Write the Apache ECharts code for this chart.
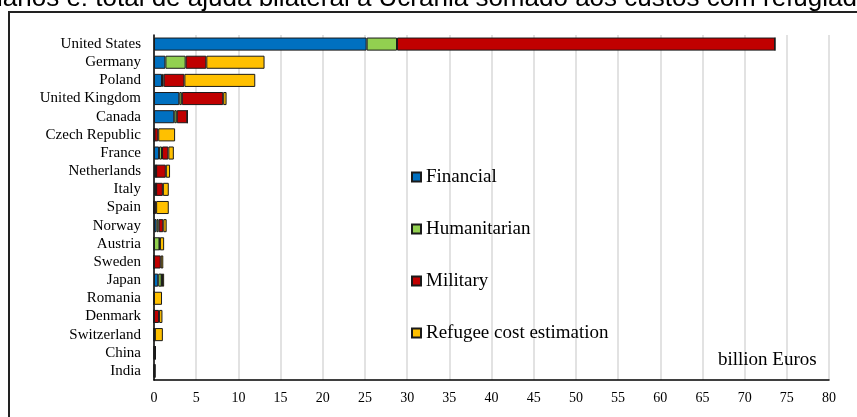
<!DOCTYPE html>
<html>
<head>
<meta charset="utf-8">
<script src="https://cdn.jsdelivr.net/npm/echarts@6/dist/echarts.min.js"></script>
<style>
html,body{margin:0;padding:0;background:#fff;}
#chart{width:857px;height:417px;}
</style>
</head>
<body>
<div id="chart"></div>
<script>
// 数据（十亿欧元）
var countries = ['United States','Germany','Poland','United Kingdom','Canada','Czech Republic','France','Netherlands','Italy','Spain','Norway','Austria','Sweden','Japan','Romania','Denmark','Switzerland','China','India'];
var financial    = [25.2, 1.35, 0.95, 3.0, 2.4, 0.05, 0.6, 0.25, 0.25, 0,   0.3,  0,    0,   0.5,  0,    0,   0,    0,    0];
var humanitarian = [3.6,  2.4,  0.2,  0.3, 0.3, 0,    0.35,0,    0,    0,   0.25, 0.65, 0,   0.4,  0,    0,   0.1,  0.15, 0.1];
var military     = [44.8, 2.45, 2.45, 4.9, 1.25,0.45, 0.75,1.15, 0.8,  0.25,0.55, 0.05, 0.8, 0.05, 0,    0.6, 0,    0,    0];
var refugee      = [0,    6.9,  8.4,  0.4, 0,   2.0,  0.65,0.5,  0.7,  1.5, 0.4,  0.5,  0.3, 0.25, 0.95, 0.4, 0.95, 0,    0];
var xTicks = [0,5,10,15,20,25,30,35,40,45,50,55,60,65,70,75,80];

var serif = '"Liberation Serif","Times New Roman",serif';

function makeSeries(name, data, color){
	return {
		name: name,
		type: 'bar',
		stack: 'total',
		barWidth: '72%',
		data: data,
		itemStyle: {color: color, borderColor: '#1a1a1a', borderWidth: 1}
	};
}

var myChart = echarts.init(document.getElementById('chart'));
var option = {
	animation: false,
	backgroundColor: '#fff',
	grid: {left: 154, right: 28, top: 35, bottom: 37},
	legend: {
		orient: 'vertical',
		left: 406,
		top: 162,
		itemWidth: 9,
		itemHeight: 9,
		itemGap: 32,
		icon: 'rect',
		textStyle: {fontFamily: serif, fontSize: 19, lineHeight: 20, color: '#000'},
		data: ['Financial','Humanitarian','Military','Refugee cost estimation']
	},
	xAxis: {
		type: 'value',
		min: xTicks[0],
		max: xTicks[xTicks.length-1],
		interval: 5,
		axisLine: {show: true, lineStyle: {color: '#000', width: 1.5}},
		axisTick: {show: false},
		axisLabel: {fontFamily: serif, fontSize: 14, color: '#000', margin: 11},
		splitLine: {lineStyle: {color: '#d9d9d9', width: 1.5}}
	},
	yAxis: {
		type: 'category',
		inverse: true,
		data: countries,
		axisLine: {lineStyle: {color: '#000', width: 1.5}},
		axisTick: {show: false},
		axisLabel: {fontFamily: serif, fontSize: 15, lineHeight: 16, interval: 0, color: '#000', margin: 13}
	},
	series: [
		makeSeries('Financial', financial, '#0070C0'),
		makeSeries('Humanitarian', humanitarian, '#92D050'),
		makeSeries('Military', military, '#C00000'),
		makeSeries('Refugee cost estimation', refugee, '#FFC000')
	],
	graphic: [
		{type: 'rect', z: 100, shape: {x: 9, y: 12, width: 900, height: 500}, style: {fill: 'none', stroke: '#222', lineWidth: 2}},
		{type: 'text', z: 100, x: -3, y: -1, style: {text: 'ianos e: total de ajuda bilateral à Ucrânia somado aos custos com refugiados', font: '26px "Liberation Sans", Arial, sans-serif', fill: '#000', verticalAlign: 'middle'}},
		{type: 'text', z: 100, left: 718, top: 351, style: {text: 'billion Euros', font: '19px ' + serif, fill: '#000'}}
	]
};
myChart.setOption(option);
</script>
</body>
</html>
